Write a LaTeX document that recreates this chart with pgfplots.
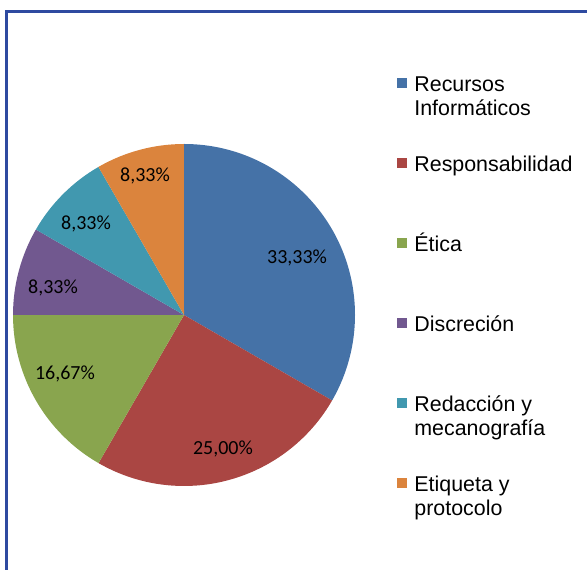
\documentclass[border=0pt]{standalone}
\usepackage{pgfplots}
\pgfplotsset{compat=1.18}
\usepackage{pgfplotstable}
\usepackage{fontspec}
\setmainfont{Liberation Sans}
\newfontfamily\labelfont{Carlito}

\definecolor{cBlue}{RGB}{69,114,167}
\definecolor{cRed}{RGB}{170,70,67}
\definecolor{cGreen}{RGB}{137,165,78}
\definecolor{cPurple}{RGB}{113,88,143}
\definecolor{cTeal}{RGB}{65,152,175}
\definecolor{cOrange}{RGB}{219,132,61}
\definecolor{frameBlue}{RGB}{46,74,160}

% share of each competence (%), and where its label sits (radius = 1)
\pgfplotstableread{
val   lx      ly      col
33.33  0.661   0.333  cBlue
25.00  0.228  -0.784  cRed
16.67 -0.696  -0.345  cGreen
8.33  -0.766   0.158  cPurple
8.33  -0.573   0.532  cTeal
8.33  -0.228   0.813  cOrange
}\piedata

\begin{document}
\begin{tikzpicture}
\useasboundingbox (0,0) rectangle (587bp,570bp);
\begin{axis}[
  at={(0,0)}, anchor=south west,
  x=171bp, y=171bp,
  xmin=-1.07602, xmax=2.35673, ymin=-1.49123, ymax=1.84211,
  hide axis, clip=false,
  legend cell align=left,
  % the image cell is centred on the (fixed height) text cell,
  % so the square is lifted up to the first line of its entry
  legend image code/.code={\fill[#1] (0bp,27.5bp) rectangle (9bp,36.5bp);},
  legend style={at={(axis cs:1.2456,1.4035)}, anchor=north west,
    draw=none, fill=none, inner sep=0pt, outer sep=0pt,
    row sep=0pt, column sep=8bp,
    font=\fontsize{21.4bp}{24bp}\selectfont,
    nodes={inner sep=0pt, text height=16bp, text depth=64bp}},
]
% pie slices, clockwise from 12 o'clock
\pgfplotstablegetrowsof{\piedata}
\pgfmathtruncatemacro{\lastrow}{\pgfplotsretval-1}
\def\cum{0}
\pgfplotsforeachungrouped \i in {0,...,\lastrow}{%
  \pgfplotstablegetelem{\i}{val}\of{\piedata}\let\v\pgfplotsretval
  \pgfplotstablegetelem{\i}{col}\of{\piedata}\let\c\pgfplotsretval
  \pgfmathsetmacro{\a}{90-3.6*\cum}%
  \pgfmathsetmacro{\b}{90-3.6*(\cum+\v)}%
  \pgfmathsetmacro{\cum}{\cum+\v}%
  \edef\slice{\noexpand\fill[\c] (axis cs:0,0) -- (axis cs:{cos(\a)},{sin(\a)})
    arc[start angle=\a, end angle=\b, radius=171bp] -- cycle;}%
  \slice
}
% percentage labels
\addplot[draw=none, mark=none, forget plot,
  point meta=\thisrow{val},
  nodes near coords={\pgfmathprintnumber[fixed, fixed zerofill, precision=2, use comma, assume math mode=true]{\pgfplotspointmeta}\%},
  nodes near coords style={anchor=center, inner sep=0pt, text=black,
    font=\labelfont\fontsize{20bp}{24bp}\selectfont}]
  table[x=lx, y=ly] {\piedata};

\addlegendimage{cBlue}\addlegendentry{\parbox[t]{170bp}{Recursos\\Informáticos}}
\addlegendimage{cRed}\addlegendentry{Responsabilidad}
\addlegendimage{cGreen}\addlegendentry{Ética}
\addlegendimage{cPurple}\addlegendentry{Discreción}
\addlegendimage{cTeal}\addlegendentry{\parbox[t]{170bp}{Redacción y\\mecanografía}}
\addlegendimage{cOrange}\addlegendentry{\parbox[t]{170bp}{Etiqueta y\\protocolo}}
\end{axis}
% chart frame
\draw[frameBlue, line width=2.5bp] (6.3bp,-5bp) -- (6.3bp,558.5bp) -- (595bp,558.5bp);
\end{tikzpicture}
\end{document}
